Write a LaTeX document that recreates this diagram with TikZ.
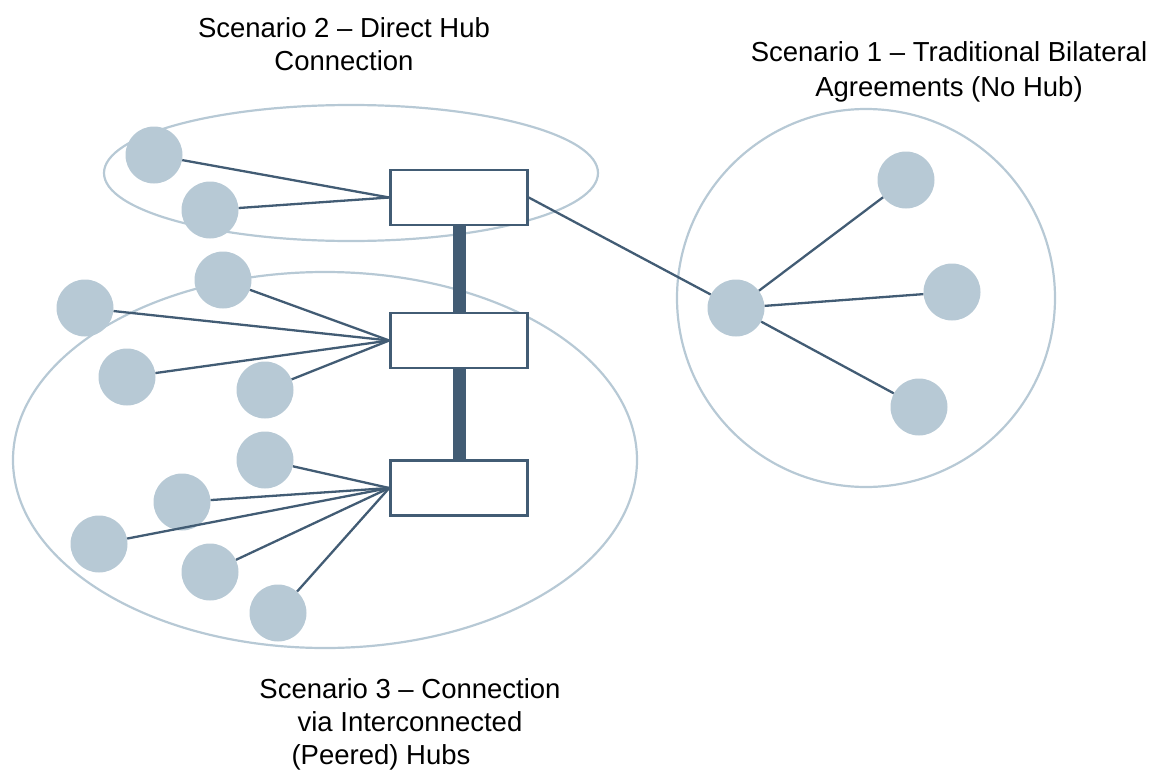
\documentclass[tikz,border=0pt]{standalone}
\usepackage{fontspec}
\setmainfont{Liberation Sans}
\definecolor{dark}{HTML}{425C74}
\definecolor{pale}{HTML}{B7C9D5}
\tikzset{
  party/.style={circle, fill=pale, draw=none, minimum size=57pt, inner sep=0pt},
  hub/.style={rectangle, draw=dark, line width=2.5pt, fill=white, minimum width=137pt, minimum height=55pt, inner sep=0pt},
  link/.style={draw=dark, line width=2.3pt},
  peer/.style={draw=dark, line width=13pt},
  zone/.style={draw=pale, line width=2.2pt},
  caption/.style={align=center, font=\fontsize{27.5}{33}\selectfont, text=black}
}
\begin{document}
\begin{tikzpicture}[x=1pt, y=-1pt]
\useasboundingbox (0,0) rectangle (1151,771);

% grouping outlines
\draw[zone] (351,173) ellipse [x radius=247, y radius=68];
\draw[zone] (325,460) ellipse [x radius=312, y radius=188];
\draw[zone] (866,298) circle [radius=189];

% hubs
\node[hub] (h1) at (459,197.5) {};
\node[hub] (h2) at (459,340.5) {};
\node[hub] (h3) at (459,488) {};
\draw[peer] (h1.south) -- (h2.north);
\draw[peer] (h2.south) -- (h3.north);

% scenario 2 members
\node[party] (a1) at (154,155) {};
\node[party] (a2) at (210,210) {};
\draw[link] (a1) -- (h1.west);
\draw[link] (a2) -- (h1.west);

% scenario 3 members on hub 2
\node[party] (b1) at (223,280) {};
\node[party] (b2) at (85,308) {};
\node[party] (b3) at (127,377) {};
\node[party] (b4) at (265,390) {};
\foreach \n in {b1,b2,b3,b4} \draw[link] (\n) -- (h2.west);

% scenario 3 members on hub 3
\node[party] (c1) at (265,460) {};
\node[party] (c2) at (182,502) {};
\node[party] (c3) at (99,544) {};
\node[party] (c4) at (210,572) {};
\node[party] (c5) at (278,613) {};
\foreach \n in {c1,c2,c3,c4,c5} \draw[link] (\n) -- (h3.west);

% scenario 1 bilateral star
\node[party] (d0) at (736,308) {};
\node[party] (d1) at (906,180) {};
\node[party] (d2) at (952,292) {};
\node[party] (d3) at (919,407) {};
\draw[link] (h1.east) -- (d0);
\foreach \n in {d1,d2,d3} \draw[link] (d0) -- (\n);

% captions
\node[caption] (t2) at (344,44) {Scenario 2 -- Direct Hub\\Connection};
\node[caption] (t1) at (949,72) {Scenario 1 -- Traditional Bilateral\\[2pt]Agreements (No Hub)};
\node[caption] (t3) at (410,724.5) {Scenario 3 -- Connection\\via Interconnected\\(Peered) Hubs\hspace*{58pt}};
\end{tikzpicture}
\end{document}
